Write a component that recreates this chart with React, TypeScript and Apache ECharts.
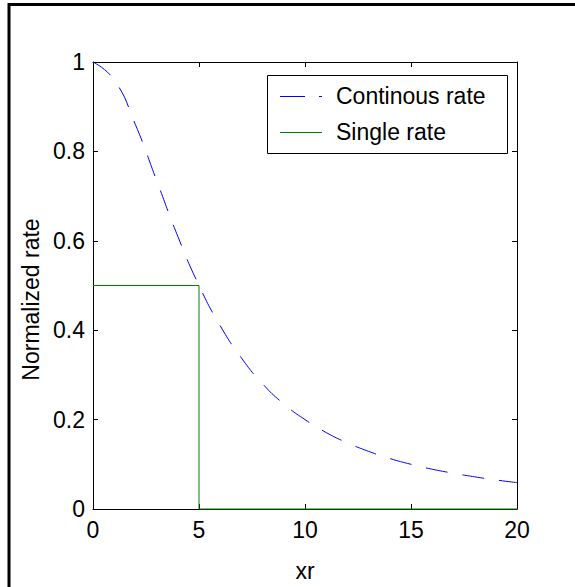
import React, { useEffect, useRef } from "react";
import * as echarts from "echarts";

const xValues = [0, 1, 2, 3, 4, 5, 6, 7, 8, 9, 10, 11, 12, 13, 14, 15, 16, 17, 18, 19, 20];
const continuousRate = [1.0, 0.96, 0.86, 0.735, 0.61, 0.5, 0.41, 0.338, 0.28, 0.235, 0.2, 0.171, 0.148, 0.129, 0.113, 0.1, 0.089, 0.08, 0.072, 0.065, 0.059];
const singleRateX = [0, 5, 5, 20];
const singleRateY = [0.5, 0.5, 0, 0];
const seriesNames = ["Continous rate", "Single rate"];
const xTitle = "xr";
const yTitle = "Normalized rate";

const FONT = "'Liberation Sans', Arial, sans-serif";
const FS = 23;

export default function App() {
  const ref = useRef<HTMLDivElement>(null);
  useEffect(() => {
    if (!ref.current) return;
    const chart = echarts.init(ref.current, null, { renderer: "svg" });
    const axisCommon = {
      axisLine: { show: true, onZero: false, lineStyle: { color: "#000", width: 1 } },
      axisTick: { show: true, inside: true, length: 5, lineStyle: { color: "#000", width: 1 } },
      splitLine: { show: false },
    };
    chart.setOption({
      animation: false,
      backgroundColor: "#fff",
      grid: { left: 93, top: 62, right: 58, bottom: 73, containLabel: false },
      xAxis: [
        {
          type: "value", min: 0, max: 20, interval: 5, position: "bottom",
          ...axisCommon,
          axisLabel: { color: "#000", fontSize: FS, fontFamily: FONT, margin: 9 },
          name: xTitle, nameLocation: "middle", nameGap: 50,
          nameTextStyle: { color: "#000", fontSize: FS, fontFamily: FONT },
        },
        {
          type: "value", min: 0, max: 20, interval: 5, position: "top",
          ...axisCommon,
          axisLabel: { show: false },
        },
      ],
      yAxis: [
        {
          type: "value", min: 0, max: 1, interval: 0.2, position: "left",
          ...axisCommon,
          axisLabel: { color: "#000", fontSize: FS, fontFamily: FONT, margin: 8 },
          name: yTitle, nameLocation: "middle", nameGap: 50, nameRotate: 90,
          nameTextStyle: { color: "#000", fontSize: FS, fontFamily: FONT, padding: [0, 28, 0, 0] },
        },
        {
          type: "value", min: 0, max: 1, interval: 0.2, position: "right",
          ...axisCommon,
          axisLabel: { show: false },
        },
      ],
      series: [
        {
          name: seriesNames[0], type: "line", xAxisIndex: 0, yAxisIndex: 0,
          data: xValues.map((x, i) => [x, continuousRate[i]]),
          smooth: true, showSymbol: false, symbol: "none", clip: false,
          lineStyle: { color: "#0000ff", width: 1, type: [22, 15] },
        },
        {
          name: seriesNames[1], type: "line", xAxisIndex: 0, yAxisIndex: 0,
          data: singleRateX.map((x, i) => [x, singleRateY[i]]),
          showSymbol: false, symbol: "none", clip: false,
          lineStyle: { color: "#008000", width: 1 },
        },
      ],
      graphic: [
        { type: "rect", shape: { x: 9, y: 4.5, width: 600, height: 600 }, style: { fill: "none", stroke: "#000", lineWidth: 3 }, z: 100 },
        { type: "rect", shape: { x: 267.5, y: 75.5, width: 240, height: 78 }, style: { fill: "#fff", stroke: "#000", lineWidth: 1 }, z: 100 },
        { type: "line", shape: { x1: 280, y1: 96.5, x2: 322, y2: 96.5 }, style: { stroke: "#0000ff", lineWidth: 1, lineDash: [25, 14] }, z: 101 },
        { type: "line", shape: { x1: 280, y1: 132.5, x2: 322, y2: 132.5 }, style: { stroke: "#008000", lineWidth: 1 }, z: 101 },
        { type: "text", x: 336, y: 96, style: { text: seriesNames[0], fill: "#000", font: `${FS}px ${FONT}`, verticalAlign: "middle", align: "left" }, z: 101 },
        { type: "text", x: 336, y: 132, style: { text: seriesNames[1], fill: "#000", font: `${FS}px ${FONT}`, verticalAlign: "middle", align: "left" }, z: 101 },
      ],
    });
    return () => chart.dispose();
  }, []);
  return <div ref={ref} style={{ position: "fixed", left: 0, top: 0, width: 575, height: 587 }} />;
}
